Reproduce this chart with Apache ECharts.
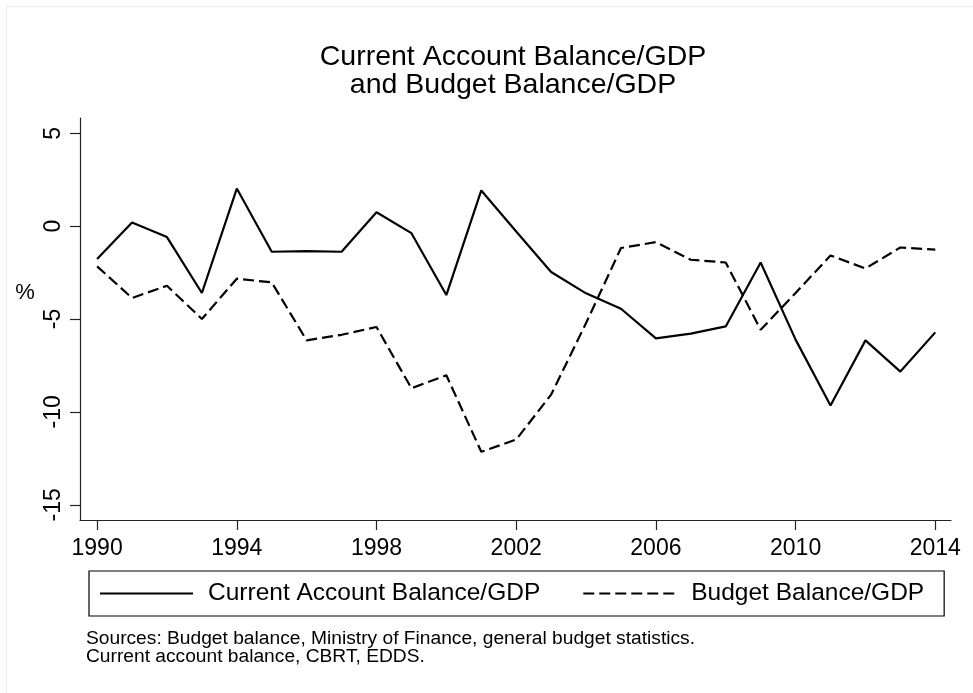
<!DOCTYPE html>
<html>
<head>
<meta charset="utf-8">
<script src="https://cdn.jsdelivr.net/npm/echarts@6/dist/echarts.min.js"></script>
<style>
html,body{margin:0;padding:0;background:#fff;}
#chart{width:973px;height:693px;}
</style>
</head>
<body>
<div id="chart"></div>
<script>
var years = [1990,1991,1992,1993,1994,1995,1996,1997,1998,1999,2000,2001,2002,2003,2004,2005,2006,2007,2008,2009,2010,2011,2012,2013,2014];
var currentAccount = [-1.77,0.19,-0.59,-3.6,2.02,-1.38,-1.35,-1.38,0.75,-0.38,-3.71,1.92,-0.29,-2.47,-3.62,-4.45,-6.04,-5.79,-5.4,-1.96,-6.11,-9.66,-6.15,-7.83,-5.72];
var budgetBalance = [-2.17,-3.87,-3.21,-5.0,-2.83,-3.03,-6.15,-5.85,-5.43,-8.73,-8.03,-12.15,-11.49,-9.07,-5.22,-1.18,-0.86,-1.81,-1.96,-5.58,-3.6,-1.58,-2.28,-1.15,-1.27];
var xTicks = [1990,1994,1998,2002,2006,2010,2014];
var yTicks = [-15,-10,-5,0,5];
var seriesNames = ['Current Account Balance/GDP','Budget Balance/GDP'];
var titleLines = ['Current Account Balance/GDP','and Budget Balance/GDP'];
var noteLines = ['Sources: Budget balance, Ministry of Finance, general budget statistics.','Current account balance, CBRT, EDDS.'];
var yTitle = '%';

function pairs(xs, ys){ return xs.map(function(x,i){ return [x, ys[i]]; }); }

var FONT = '"Liberation Sans", Arial, Helvetica, sans-serif';
var chart = echarts.init(document.getElementById('chart'), null, {renderer:'canvas'});
var axisColor = '#222';
chart.setOption({
  backgroundColor: '#fff',
  animation: false,
  textStyle: {fontFamily: FONT, color: '#000'},
  grid: {left: 80, top: 118, width: 871, height: 402, containLabel: false},
  xAxis: {
    type: 'value', min: 1989.51, max: 2014.45,
    axisLine: {show: true, onZero: false, lineStyle: {color: axisColor, width: 1.2}},
    axisTick: {show: true, length: 10, customValues: xTicks, lineStyle: {color: axisColor, width: 1.2}},
    axisLabel: {customValues: xTicks, margin: 17, fontSize: 23, color: '#000', fontFamily: FONT,
      formatter: function(v){ return String(v); }},
    splitLine: {show: false}
  },
  yAxis: {
    type: 'value', min: -15.82, max: 5.82,
    axisLine: {show: true, onZero: false, lineStyle: {color: axisColor, width: 1.2}},
    axisTick: {show: true, length: 10, customValues: yTicks, lineStyle: {color: axisColor, width: 1.2}},
    axisLabel: {customValues: yTicks, rotate: 90, margin: 15, fontSize: 23, color: '#000', fontFamily: FONT,
      formatter: function(v){ return String(v); }},
    splitLine: {show: false}
  },
  legend: {
    left: 89, top: 571,
    padding: [10, 20, 10, 10],
    borderColor: '#000', borderWidth: 1.2,
    itemWidth: 93, itemHeight: 14, itemGap: 42,
    data: seriesNames,
    itemStyle: {opacity: 0},
    textStyle: {fontSize: 24.5, color: '#000', fontFamily: FONT, padding: [0,0,0,10]}
  },
  series: [
    {name: seriesNames[0], type: 'line', data: pairs(years, currentAccount), symbol: 'none',
     lineStyle: {color: '#000', width: 2.2}, itemStyle: {color: '#000'}},
    {name: seriesNames[1], type: 'line', data: pairs(years, budgetBalance), symbol: 'none',
     lineStyle: {color: '#000', width: 2.2, type: [11, 5]}, itemStyle: {color: '#000'}}
  ],
  graphic: [
    {type: 'line', shape: {x1: 6.5, y1: 6.5, x2: 973, y2: 6.5}, style: {stroke: '#e9eef3', lineWidth: 1}, silent: true},
    {type: 'line', shape: {x1: 6.5, y1: 6.5, x2: 6.5, y2: 693}, style: {stroke: '#e9eef3', lineWidth: 1}, silent: true},
    {type: 'text', x: 513, y: 57, style: {text: titleLines[0], font: '28.5px ' + FONT, fill: '#000', textAlign: 'center', textVerticalAlign: 'middle'}},
    {type: 'text', x: 513, y: 85.3, style: {text: titleLines[1], font: '28.5px ' + FONT, fill: '#000', textAlign: 'center', textVerticalAlign: 'middle'}},
    {type: 'text', x: 25, y: 293, style: {text: yTitle, font: '22px ' + FONT, fill: '#000', textAlign: 'center', textVerticalAlign: 'middle'}},
    {type: 'text', x: 86, y: 638.5, style: {text: noteLines[0], font: '19.2px ' + FONT, fill: '#000', textAlign: 'left', textVerticalAlign: 'middle'}},
    {type: 'text', x: 86, y: 656.8, style: {text: noteLines[1], font: '19.2px ' + FONT, fill: '#000', textAlign: 'left', textVerticalAlign: 'middle'}}
  ]
});
</script>
</body>
</html>
